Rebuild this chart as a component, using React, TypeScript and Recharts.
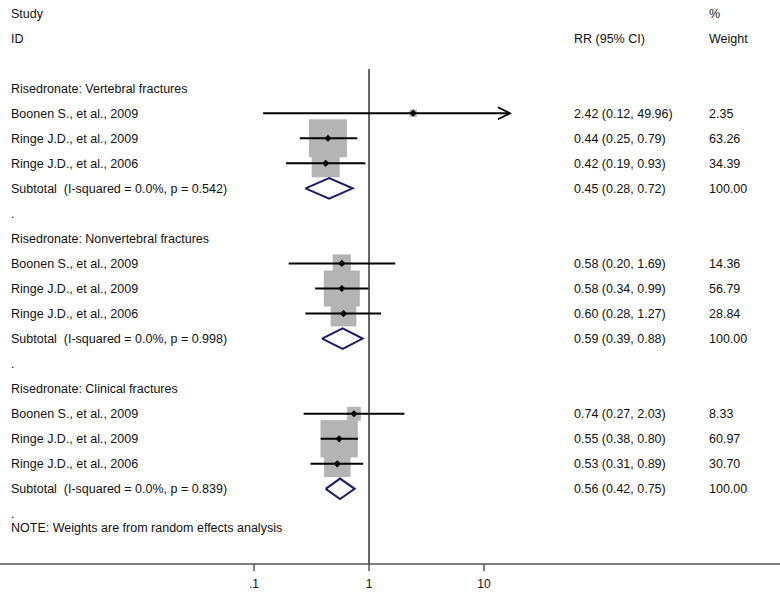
import { ComposedChart, XAxis, YAxis, Scatter, ReferenceLine } from "recharts";

const groupTitles = [
  "Risedronate: Vertebral fractures",
  "Risedronate: Nonvertebral fractures",
  "Risedronate: Clinical fractures",
];
const studyNames = ["Boonen S., et al., 2009", "Ringe J.D., et al., 2009", "Ringe J.D., et al., 2006"];
const rr = [
  [2.42, 0.44, 0.42],
  [0.58, 0.58, 0.6],
  [0.74, 0.55, 0.53],
];
const ciLow = [
  [0.12, 0.25, 0.19],
  [0.2, 0.34, 0.28],
  [0.27, 0.38, 0.31],
];
const ciHigh = [
  [49.96, 0.79, 0.93],
  [1.69, 0.99, 1.27],
  [2.03, 0.8, 0.89],
];
const weights = [
  [2.35, 63.26, 34.39],
  [14.36, 56.79, 28.84],
  [8.33, 60.97, 30.7],
];
const subRR = [0.45, 0.59, 0.56];
const subLow = [0.28, 0.39, 0.42];
const subHigh = [0.72, 0.88, 0.75];
const subI2 = ["0.0%", "0.0%", "0.0%"];
const subP = ["0.542", "0.998", "0.839"];
const xTicks = [0.1, 1, 10];
const xTickLabels = [".1", "1", "10"];
const note = "NOTE: Weights are from random effects analysis";

// plot range: where the CI lines get cut off with an arrow
const CLIP_MAX = 16.8;
const BOX_SCALE = 4.78;
const DIAMOND_HALF = 0.41;
const FONT = "'Liberation Sans', Arial, Helvetica, sans-serif";

const fmt = (v: number) => v.toFixed(2);

type TextRow = { x: number; y: number; label: string; ci?: string; wt?: string };

const textRows: TextRow[] = [
  { x: 1, y: -3, label: "Study", wt: "%" },
  { x: 1, y: -2, label: "ID", ci: "RR (95% CI)", wt: "Weight" },
];
const studyPts: { x: number; y: number; w: number }[] = [];
const ciSegs: { lo: number; hi: number; y: number; clipped: boolean }[] = [];
const diamonds: { x: number; y: number }[][] = [];

groupTitles.forEach((title, g) => {
  const base = g * 6;
  textRows.push({ x: 1, y: base, label: title });
  studyNames.forEach((name, i) => {
    const y = base + 1 + i;
    textRows.push({
      x: 1,
      y,
      label: name,
      ci: `${fmt(rr[g][i])} (${fmt(ciLow[g][i])}, ${fmt(ciHigh[g][i])})`,
      wt: fmt(weights[g][i]),
    });
    studyPts.push({ x: rr[g][i], y, w: weights[g][i] });
    ciSegs.push({ lo: ciLow[g][i], hi: Math.min(ciHigh[g][i], CLIP_MAX), y, clipped: ciHigh[g][i] > CLIP_MAX });
  });
  const sy = base + 4;
  textRows.push({
    x: 1,
    y: sy,
    label: `Subtotal  (I-squared = ${subI2[g]}, p = ${subP[g]})`,
    ci: `${fmt(subRR[g])} (${fmt(subLow[g])}, ${fmt(subHigh[g])})`,
    wt: "100.00",
  });
  diamonds.push([
    { x: subLow[g], y: sy },
    { x: subRR[g], y: sy - DIAMOND_HALF },
    { x: subHigh[g], y: sy },
    { x: subRR[g], y: sy + DIAMOND_HALF },
    { x: subLow[g], y: sy },
  ]);
  textRows.push({ x: 1, y: base + 5, label: "." });
});
textRows.push({ x: 1, y: 17.55, label: note });

const Empty = () => <g />;

function TextShape(p: any) {
  const { cy, payload } = p;
  const common = { y: cy, dy: "0.36em", fontSize: 12.5, fontFamily: FONT, fill: "#111", style: { whiteSpace: "pre" as const } };
  return (
    <g>
      <text x={11} {...common}>{payload.label}</text>
      {payload.ci && <text x={574} {...common}>{payload.ci}</text>}
      {payload.wt && <text x={709} {...common}>{payload.wt}</text>}
    </g>
  );
}

function BoxShape(p: any) {
  const s = BOX_SCALE * Math.sqrt(p.payload.w);
  return <rect x={p.cx - s / 2} y={p.cy - s / 2} width={s} height={s} fill="#b4b4b4" />;
}

function MarkerShape(p: any) {
  const { cx, cy } = p;
  const r = 3.6;
  return <polygon points={`${cx - r},${cy} ${cx},${cy - r} ${cx + r},${cy} ${cx},${cy + r}`} fill="#000" />;
}

function ArrowShape(p: any) {
  const { cx, cy } = p;
  return <polyline points={`${cx - 12},${cy - 6} ${cx},${cy} ${cx - 12},${cy + 6}`} fill="none" stroke="#000" strokeWidth={1.8} />;
}

export default function App() {
  return (
    <div style={{ position: "absolute", left: 0, top: 0, background: "#fff" }}>
      <ComposedChart width={780} height={595} margin={{ top: 0, right: 0, bottom: 0, left: 0 }}>
        <XAxis
          type="number"
          dataKey="x"
          scale="log"
          domain={[0.000618, 3749]}
          allowDataOverflow
          ticks={xTicks}
          tickFormatter={(v: number) => xTickLabels[xTicks.indexOf(v)] ?? String(v)}
          height={31}
          tickSize={7}
          tickMargin={8}
          stroke="#555"
          strokeWidth={1.5}
          tick={{ fill: "#111", fontSize: 12, fontFamily: FONT }}
        />
        <YAxis type="number" dataKey="y" domain={[-3.52, 19]} reversed allowDataOverflow hide />
        <Scatter data={studyPts} shape={BoxShape} isAnimationActive={false} />
        <ReferenceLine
          segment={[
            { x: 1, y: -0.76 },
            { x: 1, y: 19 },
          ]}
          stroke="#333"
          strokeWidth={1.5}
        />
        {ciSegs.map((c, i) => (
          <Scatter
            key={`ci${i}`}
            data={[
              { x: c.lo, y: c.y },
              { x: c.hi, y: c.y },
            ]}
            line={{ stroke: "#000", strokeWidth: 2 }}
            shape={Empty}
            isAnimationActive={false}
          />
        ))}
        <Scatter
          data={ciSegs.filter((c) => c.clipped).map((c) => ({ x: c.hi, y: c.y }))}
          shape={ArrowShape}
          isAnimationActive={false}
        />
        <Scatter data={studyPts} shape={MarkerShape} isAnimationActive={false} />
        {diamonds.map((d, i) => (
          <Scatter
            key={`dm${i}`}
            data={d}
            line={{ stroke: "#1b1b6e", strokeWidth: 2, strokeLinejoin: "miter" }}
            shape={Empty}
            isAnimationActive={false}
          />
        ))}
        <Scatter data={textRows} shape={TextShape} isAnimationActive={false} />
      </ComposedChart>
    </div>
  );
}
